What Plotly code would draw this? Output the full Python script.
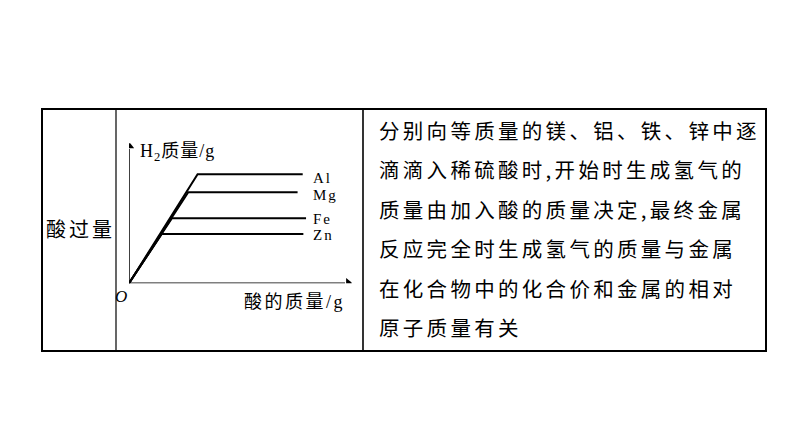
import plotly.graph_objects as go

W, H = 794, 446

# ---- data ----
metals = ["Al", "Mg", "Fe", "Zn"]
kink_x = [3.08, 2.66, 1.92, 1.47]      # acid mass where metal is used up
h2_mass = [7.79, 6.50, 4.64, 3.52]     # final H2 mass
end_x = [7.80, 7.57, 7.95, 7.83]       # where the plateau line ends
label_y = [7.54, 6.34, 4.59, 3.45]
row_label = "酸过量"
y_title = "H<sub>2</sub>质量/g"
x_title = "酸的质量/g"
desc_lines = [
    "分别向等质量的镁、铝、铁、锌中逐",
    "滴滴入稀硫酸时,开始时生成氢气的",
    "质量由加入酸的质量决定,最终金属",
    "反应完全时生成氢气的质量与金属",
    "在化合物中的化合价和金属的相对",
    "原子质量有关",
]

def px(x):
    return x / W

def py(y):
    return 1 - y / H

CJK = "Liberation Serif, Noto Sans CJK SC"

fig = go.Figure()
for m, kx, hy, ex in zip(metals, kink_x, h2_mass, end_x):
    fig.add_trace(go.Scatter(x=[0, kx, ex], y=[0, hy, hy], mode="lines",
                             line=dict(color="black", width=2), name=m,
                             showlegend=False, hoverinfo="skip"))

# axis arrowheads
fig.add_trace(go.Scatter(x=[9.85, 0], y=[0, 9.8], mode="markers",
                         marker=dict(symbol=["triangle-right", "triangle-up"], size=9,
                                     color="black"),
                         showlegend=False, hoverinfo="skip"))

ox, oy = 129, 283.3
tipx, tipy = 351.7, 143.3
fig.update_layout(
    width=W, height=H, margin=dict(l=0, r=0, t=0, b=0),
    paper_bgcolor="white", plot_bgcolor="rgba(0,0,0,0)",
    xaxis=dict(domain=[px(ox), px(tipx)], range=[0, 10], visible=False, fixedrange=True),
    yaxis=dict(domain=[py(oy), py(tipy)], range=[0, 10], visible=False, fixedrange=True),
    showlegend=False,
)

ann = []
for m, ly in zip(metals, label_y):
    ann.append(dict(x=8.15, y=ly, xref="x", yref="y",
                    text='<span style="letter-spacing:2px">' + m + '</span>',
                    showarrow=False, xanchor="left", yanchor="middle",
                    font=dict(family="Liberation Serif", size=15, color="black")))
ann.append(dict(x=px(138), y=py(152), xref="paper", yref="paper",
                text='<span style="letter-spacing:1px">' + y_title + '</span>',
                showarrow=False, xanchor="left", yanchor="middle",
                font=dict(family=CJK, size=18, color="black")))
ann.append(dict(x=px(242), y=py(302), xref="paper", yref="paper",
                text='<span style="letter-spacing:2.5px">' + x_title + '</span>',
                showarrow=False, xanchor="left", yanchor="middle",
                font=dict(family=CJK, size=18, color="black")))
ann.append(dict(x=px(121), y=py(296), xref="paper", yref="paper", text="<i>O</i>",
                showarrow=False, xanchor="center", yanchor="middle",
                font=dict(family="Liberation Serif", size=17, color="black")))
ann.append(dict(x=px(44), y=py(228), xref="paper", yref="paper",
                text='<span style="letter-spacing:3px">' + row_label + '</span>',
                showarrow=False, xanchor="left", yanchor="middle",
                font=dict(family="Noto Sans CJK SC", size=20, color="black")))
line_y0, line_dy = 130, 39.4
for i, t in enumerate(desc_lines):
    ann.append(dict(x=px(377), y=py(line_y0 + i * line_dy), xref="paper", yref="paper",
                    text='<span style="letter-spacing:3.3px">' + t + '</span>',
                    showarrow=False, xanchor="left", yanchor="middle",
                    font=dict(family="Noto Sans CJK SC", size=20.5, color="black")))
fig.update_layout(annotations=ann)

# table borders and axis lines
shapes = []
L, R, T, B = 42, 766, 109, 351
shapes.append(dict(type="rect", xref="paper", yref="paper", x0=px(L), x1=px(R),
                   y0=py(B), y1=py(T), line=dict(color="black", width=2)))
for xv, wd in [(116, 1.2), (363, 1.6)]:
    shapes.append(dict(type="line", xref="paper", yref="paper", x0=px(xv), x1=px(xv),
                       y0=py(B), y1=py(T), line=dict(color="black", width=wd)))
shapes.append(dict(type="line", xref="x", yref="y", x0=0, x1=9.7, y0=0, y1=0,
                   line=dict(color="black", width=1.5)))
shapes.append(dict(type="line", xref="x", yref="y", x0=0, x1=0, y0=0, y1=9.6,
                   line=dict(color="black", width=1.5)))
fig.update_layout(shapes=shapes)

fig.write_html("out.html", config={"displayModeBar": False},
               post_script="document.body.style.margin='0px';")
